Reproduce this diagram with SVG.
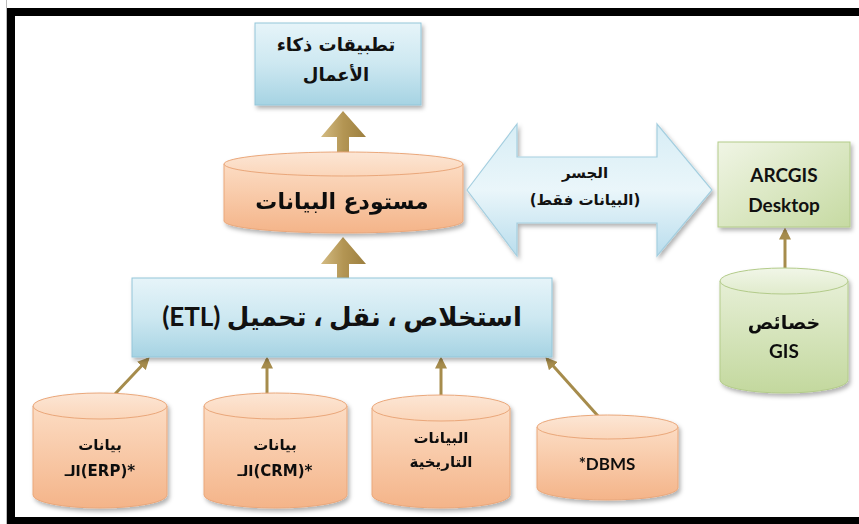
<svg xmlns="http://www.w3.org/2000/svg" width="859" height="524" viewBox="0 0 859 524">
<defs>
<linearGradient id="gBlue" x1="0" y1="0" x2="0" y2="1">
<stop offset="0" stop-color="#e6f4f9"/><stop offset="0.5" stop-color="#cde8f1"/><stop offset="1" stop-color="#a6d3e3"/>
</linearGradient>
<linearGradient id="gBridge" x1="0" y1="0" x2="0" y2="1">
<stop offset="0" stop-color="#d7edf5"/><stop offset="0.5" stop-color="#eaf6fa"/><stop offset="1" stop-color="#b9dded"/>
</linearGradient>
<linearGradient id="gOrBody" x1="0" y1="0" x2="0" y2="1">
<stop offset="0" stop-color="#fcdcc3"/><stop offset="1" stop-color="#f4b489"/>
</linearGradient>
<linearGradient id="gOrTop" x1="0" y1="0" x2="0" y2="1">
<stop offset="0" stop-color="#fce6d5"/><stop offset="1" stop-color="#fbd6ba"/>
</linearGradient>
<linearGradient id="gGrBody" x1="0" y1="0" x2="0" y2="1">
<stop offset="0" stop-color="#e6efd6"/><stop offset="1" stop-color="#c3d89e"/>
</linearGradient>
<linearGradient id="gGrTop" x1="0" y1="0" x2="0" y2="1">
<stop offset="0" stop-color="#f1f6e8"/><stop offset="1" stop-color="#e0ebcc"/>
</linearGradient>
<linearGradient id="gGrBox" x1="0" y1="0" x2="1" y2="1">
<stop offset="0" stop-color="#f0f5e5"/><stop offset="1" stop-color="#c6daa2"/>
</linearGradient>
<linearGradient id="gArrow" x1="0" y1="0" x2="1" y2="0">
<stop offset="0" stop-color="#d3bb83"/><stop offset="0.5" stop-color="#b39553"/><stop offset="1" stop-color="#9c7f3f"/>
</linearGradient>
<filter id="sh" x="-10%" y="-10%" width="125%" height="135%">
<feDropShadow dx="2" dy="3" stdDeviation="2" flood-color="#000" flood-opacity="0.3"/>
</filter>
<marker id="ah" viewBox="0 0 10 10" refX="8" refY="5" markerWidth="4" markerHeight="4" orient="auto" markerUnits="strokeWidth">
<path d="M0,0 L10,5 L0,10 Z" fill="#a68c4c"/>
</marker>
</defs>
<style>
.ar{font-family:"DejaVu Sans","Liberation Sans",sans-serif;font-weight:bold;fill:#111;text-anchor:middle;direction:rtl}
.la{font-family:"Lato","Open Sans","DejaVu Sans",sans-serif;font-weight:bold;fill:#111;text-anchor:middle}
.box{fill:url(#gBlue);stroke:#93c6d9;stroke-width:1;filter:url(#sh)}
.orb{fill:url(#gOrBody);stroke:#eaa77a;stroke-width:1}
.ort{fill:url(#gOrTop);stroke:#eaa77a;stroke-width:1}
.grb{fill:url(#gGrBody);stroke:#b3cb8a;stroke-width:1}
.grt{fill:url(#gGrTop);stroke:#b3cb8a;stroke-width:1}
.thin{stroke:#a68c4c;stroke-width:3;fill:none;marker-end:url(#ah)}
.thick{fill:url(#gArrow)}
</style>
<rect width="859" height="524" fill="#fff"/>
<!-- frame -->
<line x1="6.5" y1="0" x2="6.5" y2="524" stroke="#bbb" stroke-width="1"/>
<rect x="7" y="8" width="852" height="8" fill="#000"/>
<rect x="7" y="8" width="8" height="516" fill="#000"/>
<rect x="7" y="517" width="852" height="7" fill="#000"/>

<g id="connectors">
<path class="thick" d="M337,153 V137 H321 L343,111 L366,137 H349 V153 Z"/>
<path class="thick" d="M337,278 V264 H321 L343,237 L366,264 H349 V278 Z"/>
<line class="thin" x1="115" y1="394" x2="148" y2="359"/>
<line class="thin" x1="267" y1="394" x2="267" y2="359"/>
<line class="thin" x1="441" y1="396" x2="441" y2="359"/>
<line class="thin" x1="598" y1="416" x2="547" y2="359"/>
<line class="thin" x1="785" y1="268" x2="785" y2="230"/>
</g>

<g id="bi-apps">
<rect class="box" x="255" y="23" width="166" height="82"/>
<text class="ar" x="336" y="51" font-size="18">تطبيقات ذكاء</text>
<text class="ar" x="336" y="81" font-size="18">الأعمال</text>
</g>

<g id="warehouse" filter="url(#sh)">
<path class="orb" d="M224,164 V221 A119.5,12 0 0 0 463,221 V164 Z"/>
<ellipse class="ort" cx="343.5" cy="164" rx="119.5" ry="12"/>
<text class="ar" x="342" y="209" font-size="22">مستودع البيانات</text>
</g>

<g id="bridge">
<path d="M467,190 L517,124 V157 H657 V124 L712,190 L657,256 V223 H517 V256 Z" fill="url(#gBridge)" stroke="#a5cfe0" stroke-width="1.2" filter="url(#sh)"/>
<text class="ar" x="585" y="178" font-size="15">الجسر</text>
<text class="ar" x="585" y="205" font-size="15">(البيانات فقط)</text>
</g>

<g id="arcgis">
<rect x="718" y="142" width="132" height="85" fill="url(#gGrBox)" stroke="#b3cb8a" stroke-width="1" filter="url(#sh)"/>
<text class="la" x="784" y="182" font-size="19">ARCGIS</text>
<text class="la" x="784" y="212" font-size="19">Desktop</text>
</g>

<g id="etl">
<rect class="box" x="132" y="278" width="420" height="79"/>
<text class="ar" x="342" y="326" font-size="26" style="font-family:'Lato','DejaVu Sans',sans-serif">استخلاص ، نقل ، تحميل (ETL)</text>
</g>

<g id="gis" filter="url(#sh)">
<path class="grb" d="M720,281 V380 A64,13 0 0 0 848,380 V281 Z"/>
<ellipse class="grt" cx="784" cy="281" rx="64" ry="13"/>
<text class="ar" x="784" y="329" font-size="19">خصائص</text>
<text class="la" x="784" y="358" font-size="19">GIS</text>
</g>

<g id="erp" filter="url(#sh)">
<path class="orb" d="M33,406 V495 A67,13 0 0 0 167,495 V406 Z"/>
<ellipse class="ort" cx="100" cy="406" rx="67" ry="13"/>
<text class="ar" x="100" y="450" font-size="15">بيانات</text>
<text class="ar" x="100" y="476" font-size="15" style="direction:ltr">الـ(ERP)*</text>
</g>

<g id="crm" filter="url(#sh)">
<path class="orb" d="M204,406 V495 A71.5,13 0 0 0 347,495 V406 Z"/>
<ellipse class="ort" cx="275.5" cy="406" rx="71.5" ry="13"/>
<text class="ar" x="275" y="450" font-size="15">بيانات</text>
<text class="ar" x="275" y="476" font-size="15" style="direction:ltr">الـ(CRM)*</text>
</g>

<g id="historical" filter="url(#sh)">
<path class="orb" d="M372,408 V495 A69,13 0 0 0 510,495 V408 Z"/>
<ellipse class="ort" cx="441" cy="408" rx="69" ry="13"/>
<text class="ar" x="441" y="443" font-size="15">البيانات</text>
<text class="ar" x="441" y="467" font-size="15">التاريخية</text>
</g>

<g id="dbms" filter="url(#sh)">
<path class="orb" d="M537,427 V488 A70.5,12 0 0 0 678,488 V427 Z"/>
<ellipse class="ort" cx="607.5" cy="427" rx="70.5" ry="12"/>
<text class="la" x="607" y="470" font-size="17">*DBMS</text>
</g>
</svg>
